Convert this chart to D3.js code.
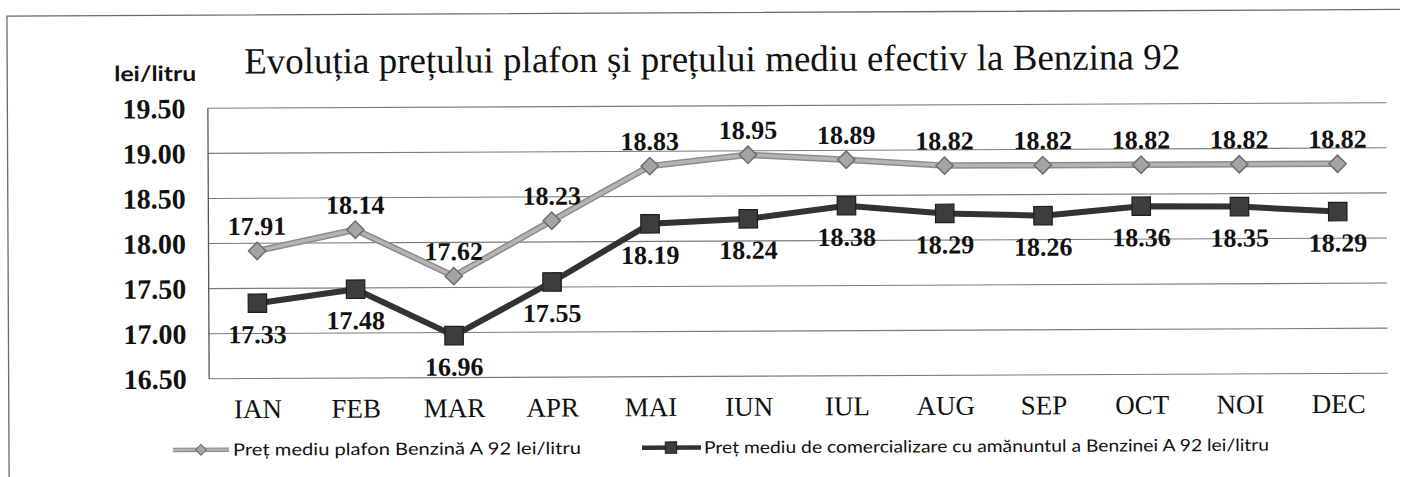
<!DOCTYPE html>
<html>
<head>
<meta charset="utf-8">
<script src="https://cdn.jsdelivr.net/npm/d3@7"></script>
<style>
  html, body { margin: 0; padding: 0; background: #fff; }
  svg { display: block; }
</style>
</head>
<body>
<svg id="chart" width="1406" height="477"></svg>
<script>
const months = ["IAN","FEB","MAR","APR","MAI","IUN","IUL","AUG","SEP","OCT","NOI","DEC"];
const plafon = [17.91,18.14,17.62,18.23,18.83,18.95,18.89,18.82,18.82,18.82,18.82,18.82];
const efectiv = [17.33,17.48,16.96,17.55,18.19,18.24,18.38,18.29,18.26,18.36,18.35,18.29];
const yTicks = [16.5,17,17.5,18,18.5,19,19.5];
const titleText = "Evoluția prețului plafon și prețului mediu efectiv la Benzina 92";
const yUnit = "lei/litru";
const seriesNames = ["Preț mediu plafon Benzină A 92 lei/litru",
                     "Preț mediu de comercializare cu amănuntul a Benzinei A 92 lei/litru"];

const svg = d3.select("#chart");
const W = 1406, H = 477;
svg.append("rect").attr("width", W).attr("height", H).attr("fill", "#fff");

// the scanned original is very slightly tilted
const g = svg.append("g").attr("transform", "rotate(-0.27,798,240)");

const serif = "'Liberation Serif','Times New Roman',serif";
const sans = "Lato,'Noto Sans',sans-serif";

const plot = {left: 208, right: 1387, top: 105, bottom: 375.5};
const x = d3.scaleBand().domain(months).range([plot.left, plot.right]).padding(0);
const cx = d => x(d) + x.bandwidth() / 2;
const y = d3.scaleLinear().domain([16.5, 19.5]).range([plot.bottom, plot.top]);
const fmt = d3.format(".2f");

// outer frame (top + left edges visible in original)
g.append("path")
  .attr("d", d3.line()([[8, 478], [8, 12.3], [1401, 12.3]]))
  .attr("fill", "none").attr("stroke", "#6a6a6a").attr("stroke-width", 1.3);

// title
g.append("text")
  .attr("x", 713).attr("y", 71)
  .attr("text-anchor", "middle")
  .attr("font-family", serif).attr("font-size", 37)
  .attr("fill", "#111")
  .text(titleText);

// unit label
g.append("text")
  .attr("x", 156).attr("y", 78)
  .attr("text-anchor", "middle")
  .attr("font-family", sans).attr("font-weight", "bold").attr("font-size", 21)
  .attr("textLength", 82).attr("lengthAdjust", "spacingAndGlyphs")
  .attr("fill", "#111")
  .text(yUnit);

// gridlines
const grid = g.append("g").attr("transform", `translate(${plot.left},0)`)
  .call(d3.axisLeft(y).tickValues(yTicks).tickSize(-(plot.right - plot.left)).tickFormat(""));
grid.select(".domain").remove();
grid.selectAll(".tick line").attr("stroke", "#7a7a7a").attr("stroke-width", 1.1);

// y axis with labels
const yAxis = g.append("g").attr("transform", `translate(${plot.left},0)`)
  .call(d3.axisLeft(y).tickValues(yTicks).tickSize(0).tickPadding(22).tickFormat(fmt));
yAxis.select(".domain").attr("stroke", "#555").attr("stroke-width", 1.3);
yAxis.selectAll(".tick text")
  .attr("font-family", serif).attr("font-weight", "bold").attr("font-size", 28)
  .attr("fill", "#111").attr("dy", "0.35em");

// x axis labels
const xAxis = g.append("g").attr("transform", `translate(0,${plot.bottom})`)
  .call(d3.axisBottom(x).tickSize(0).tickPadding(0));
xAxis.select(".domain").remove();
xAxis.selectAll(".tick text")
  .attr("font-family", serif).attr("font-size", 27)
  .attr("fill", "#111").attr("dy", 0).attr("y", 40);

const line = d3.line().x((d, i) => cx(months[i])).y(d => y(d));

// series 1: plafon (gray, diamonds)
g.append("path").datum(plafon)
  .attr("d", line).attr("fill", "none")
  .attr("stroke", "#8c8c8c").attr("stroke-width", 6.5).attr("stroke-linejoin", "round");
g.append("path").datum(plafon)
  .attr("d", line).attr("fill", "none")
  .attr("stroke", "#b4b4b4").attr("stroke-width", 3.5).attr("stroke-linejoin", "round");

const diamond = d3.symbol().type(d3.symbolSquare).size(150);
g.selectAll(".dia").data(plafon).enter().append("path")
  .attr("d", diamond)
  .attr("transform", (d, i) => `translate(${cx(months[i])},${y(d)}) rotate(45)`)
  .attr("fill", "#a4a4a4").attr("stroke", "#6e6e6e").attr("stroke-width", 1.5);

// series 2: efectiv (dark, squares)
g.append("path").datum(efectiv)
  .attr("d", line).attr("fill", "none")
  .attr("stroke", "#333").attr("stroke-width", 6).attr("stroke-linejoin", "round");
const square = d3.symbol().type(d3.symbolSquare).size(340);
g.selectAll(".sq").data(efectiv).enter().append("path")
  .attr("d", square)
  .attr("transform", (d, i) => `translate(${cx(months[i])},${y(d)})`)
  .attr("fill", "#3d3d3d").attr("stroke", "#1e1e1e").attr("stroke-width", 1.2);

// data labels
g.selectAll(".lab1").data(plafon).enter().append("text")
  .attr("x", (d, i) => cx(months[i])).attr("y", d => y(d) - 16)
  .attr("text-anchor", "middle")
  .attr("font-family", serif).attr("font-weight", "bold").attr("font-size", 26)
  .attr("fill", "#111").text(fmt);
g.selectAll(".lab2").data(efectiv).enter().append("text")
  .attr("x", (d, i) => cx(months[i])).attr("y", d => y(d) + 40)
  .attr("text-anchor", "middle")
  .attr("font-family", serif).attr("font-weight", "bold").attr("font-size", 26)
  .attr("fill", "#111").text(fmt);

// legend
const leg = g.append("g");
const legY = 447;
// item 1
leg.append("line").attr("x1", 172).attr("x2", 228).attr("y1", legY).attr("y2", legY)
  .attr("stroke", "#8c8c8c").attr("stroke-width", 4.5);
leg.append("line").attr("x1", 172).attr("x2", 228).attr("y1", legY).attr("y2", legY)
  .attr("stroke", "#b4b4b4").attr("stroke-width", 2.2);
leg.append("path").attr("d", d3.symbol().type(d3.symbolSquare).size(60))
  .attr("transform", `translate(200,${legY}) rotate(45)`)
  .attr("fill", "#a4a4a4").attr("stroke", "#6e6e6e").attr("stroke-width", 1);
leg.append("text").attr("x", 232).attr("y", legY + 6)
  .attr("font-family", sans).attr("font-size", 17)
  .attr("textLength", 348).attr("lengthAdjust", "spacingAndGlyphs")
  .attr("fill", "#111").text(seriesNames[0]);
// item 2
leg.append("line").attr("x1", 641).attr("x2", 700).attr("y1", legY).attr("y2", legY)
  .attr("stroke", "#333").attr("stroke-width", 4.5);
leg.append("path").attr("d", d3.symbol().type(d3.symbolSquare).size(130))
  .attr("transform", `translate(670,${legY})`)
  .attr("fill", "#3d3d3d").attr("stroke", "#1e1e1e").attr("stroke-width", 1);
leg.append("text").attr("x", 703).attr("y", legY + 6)
  .attr("font-family", sans).attr("font-size", 17)
  .attr("textLength", 565).attr("lengthAdjust", "spacingAndGlyphs")
  .attr("fill", "#111").text(seriesNames[1]);
</script>
</body>
</html>
